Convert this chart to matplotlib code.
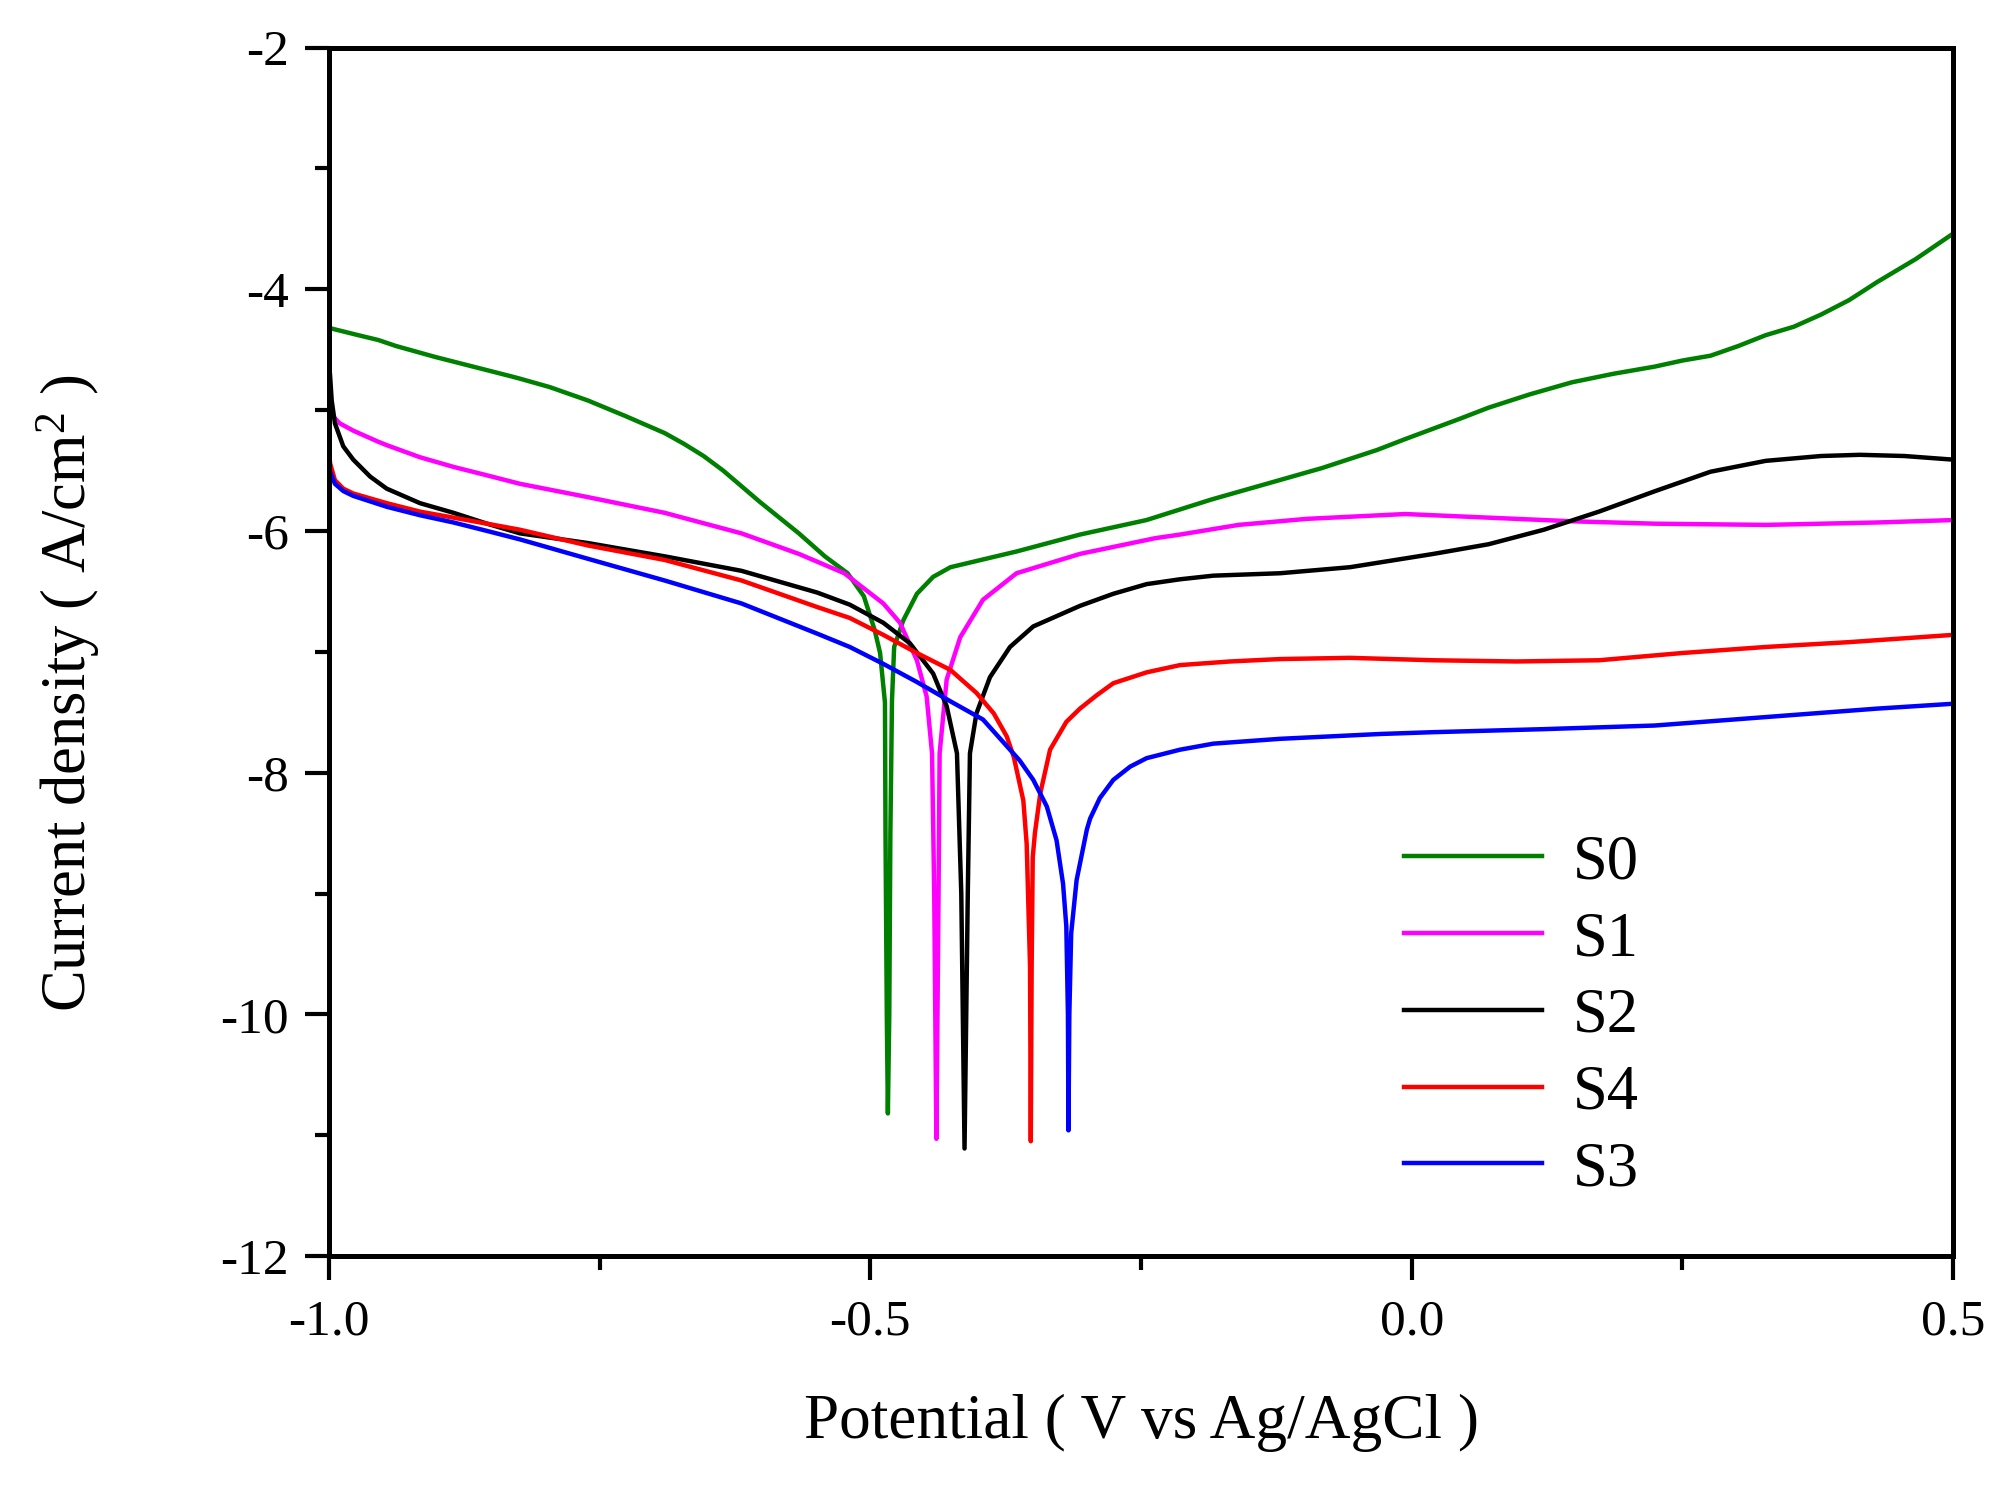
import matplotlib
matplotlib.use("Agg")
import matplotlib.pyplot as plt
from matplotlib.ticker import MultipleLocator, FixedLocator

plt.rcParams['font.family'] = ['Liberation Serif', 'DejaVu Serif']
plt.rcParams['mathtext.fontset'] = 'custom'
plt.rcParams['mathtext.rm'] = 'Liberation Serif'
plt.rcParams['mathtext.it'] = 'Liberation Serif:italic'
plt.rcParams['axes.unicode_minus'] = False

# ---- data (Potential V vs Ag/AgCl, log current density) ----
v_s0 = [-1.0, -0.973, -0.9545, -0.938, -0.902, -0.867, -0.832, -0.8236, -0.796, -0.761,
        -0.726, -0.690, -0.672, -0.654, -0.636, -0.619, -0.602, -0.584, -0.566, -0.542,
        -0.521, -0.506, -0.496, -0.491, -0.4865, -0.486, -0.4848, -0.4838, -0.4825, -0.4815,
        -0.480, -0.478, -0.4696, -0.457, -0.442, -0.426, -0.365, -0.3064, -0.245, -0.185,
        -0.134, -0.083, -0.032, -0.006, 0.045, 0.071, 0.109, 0.148, 0.186, 0.2246,
        0.250, 0.276, 0.3016, 0.327, 0.353, 0.378, 0.404, 0.430, 0.4656, 0.5]
i_s0 = [-4.32, -4.38, -4.42, -4.47, -4.56, -4.64, -4.72, -4.74, -4.81, -4.92,
        -5.05, -5.19, -5.28, -5.38, -5.50, -5.63, -5.76, -5.89, -6.02, -6.21,
        -6.35, -6.54, -6.82, -7.01, -7.42, -8.5, -10.0, -10.82, -10.0, -8.5,
        -7.4, -6.96, -6.74, -6.52, -6.38, -6.30, -6.17, -6.03, -5.91, -5.74,
        -5.61, -5.48, -5.33, -5.24, -5.07, -4.98, -4.87, -4.77, -4.70, -4.64,
        -4.59, -4.55, -4.47, -4.38, -4.31, -4.21, -4.09, -3.94, -3.75, -3.54]

v_s1 = [-1.0, -0.9975, -0.990, -0.9776, -0.955, -0.9467, -0.916, -0.885, -0.854, -0.8236,
        -0.761, -0.690, -0.619, -0.566, -0.524, -0.488, -0.4726, -0.457, -0.448, -0.443,
        -0.441, -0.439, -0.437, -0.436, -0.4295, -0.417, -0.396, -0.365, -0.3064, -0.237,
        -0.214, -0.160, -0.097, -0.006, 0.071, 0.148, 0.2246, 0.327, 0.430, 0.5]
i_s1 = [-4.93, -5.04, -5.11, -5.17, -5.26, -5.29, -5.39, -5.47, -5.54, -5.61,
        -5.72, -5.85, -6.02, -6.19, -6.35, -6.60, -6.76, -7.07, -7.37, -7.84,
        -9.0, -11.03, -9.0, -7.84, -7.23, -6.88, -6.57, -6.35, -6.19, -6.06,
        -6.03, -5.95, -5.90, -5.86, -5.89, -5.92, -5.94, -5.95, -5.93, -5.91]

v_s2 = [-1.0, -0.9991, -0.9975, -0.9945, -0.9868, -0.9776, -0.962, -0.9467, -0.916, -0.885,
        -0.854, -0.8236, -0.761, -0.690, -0.619, -0.549, -0.519, -0.488, -0.4634, -0.442,
        -0.4295, -0.420, -0.416, -0.413, -0.410, -0.408, -0.402, -0.3895, -0.371, -0.3495,
        -0.3064, -0.2756, -0.2448, -0.214, -0.1832, -0.1216, -0.057, -0.029, 0.020, 0.071,
        0.122, 0.173, 0.225, 0.276, 0.327, 0.378, 0.414, 0.455, 0.5]
i_s2 = [-4.62, -4.70, -4.92, -5.11, -5.30, -5.41, -5.55, -5.65, -5.77, -5.85,
        -5.94, -6.02, -6.10, -6.21, -6.33, -6.51, -6.61, -6.76, -6.93, -7.18,
        -7.45, -7.84, -9.0, -11.11, -9.0, -7.84, -7.51, -7.21, -6.96, -6.79,
        -6.62, -6.52, -6.44, -6.40, -6.37, -6.35, -6.30, -6.26, -6.19, -6.11,
        -5.99, -5.84, -5.67, -5.51, -5.42, -5.38, -5.37, -5.38, -5.41]

v_s4 = [-1.0, -0.999, -0.9945, -0.9868, -0.9776, -0.9467, -0.916, -0.885, -0.854, -0.8236,
        -0.761, -0.690, -0.619, -0.549, -0.519, -0.488, -0.457, -0.426, -0.402, -0.386,
        -0.374, -0.3675, -0.3587, -0.3556, -0.3525, -0.3518, -0.3510, -0.3500, -0.348, -0.343,
        -0.334, -0.319, -0.3064, -0.291, -0.2756, -0.2448, -0.214, -0.1678, -0.1216, -0.057,
        0.020, 0.0966, 0.173, 0.250, 0.327, 0.404, 0.5]
i_s4 = [-5.30, -5.44, -5.58, -5.65, -5.69, -5.77, -5.84, -5.89, -5.94, -5.99,
        -6.12, -6.24, -6.41, -6.63, -6.72, -6.86, -7.01, -7.15, -7.34, -7.51,
        -7.70, -7.87, -8.23, -8.59, -9.6, -11.05, -9.6, -8.7, -8.50, -8.17,
        -7.81, -7.58, -7.47, -7.36, -7.26, -7.17, -7.11, -7.08, -7.06, -7.05,
        -7.07, -7.08, -7.07, -7.01, -6.96, -6.92, -6.86]

v_s3 = [-1.0, -0.999, -0.9945, -0.9868, -0.9776, -0.9467, -0.916, -0.885, -0.854, -0.8236,
        -0.761, -0.690, -0.619, -0.549, -0.519, -0.488, -0.457, -0.426, -0.396, -0.380,
        -0.362, -0.3495, -0.337, -0.328, -0.322, -0.319, -0.3175, -0.317, -0.3162, -0.3145,
        -0.3095, -0.300, -0.297, -0.288, -0.2756, -0.260, -0.2448, -0.214, -0.1832, -0.1216,
        -0.029, 0.020, 0.122, 0.2246, 0.327, 0.430, 0.5]
i_s3 = [-5.40, -5.51, -5.61, -5.67, -5.71, -5.80, -5.87, -5.93, -6.00, -6.07,
        -6.23, -6.41, -6.60, -6.85, -6.96, -7.10, -7.25, -7.41, -7.56, -7.72,
        -7.90, -8.06, -8.28, -8.56, -8.92, -9.27, -10.0, -10.96, -10.0, -9.33,
        -8.89, -8.47, -8.38, -8.21, -8.06, -7.95, -7.88, -7.81, -7.76, -7.72,
        -7.68, -7.665, -7.64, -7.61, -7.54, -7.47, -7.43]

series_labels = ['S0', 'S1', 'S2', 'S4', 'S3']
series_colors = ['#008000', '#FF00FF', '#000000', '#FF0000', '#0000FF']
series_v = [v_s0, v_s1, v_s2, v_s4, v_s3]
series_i = [i_s0, i_s1, i_s2, i_s4, i_s3]

x_ticks = [-1.0, -0.5, 0.0, 0.5]
x_tick_labels = ['-1.0', '-0.5', '0.0', '0.5']
y_ticks = [-12, -10, -8, -6, -4, -2]
y_tick_labels = ['-12', '-10', '-8', '-6', '-4', '-2']

# ---- figure ----
fig = plt.figure(figsize=(20.06, 14.90), dpi=100)
ax = fig.add_axes([0.1640, 0.1570, 0.8096, 0.8111])

for v, i, lab, col in zip(series_v, series_i, series_labels, series_colors):
    ax.plot(v, i, color=col, lw=3.2, label=lab, solid_joinstyle='round')

ax.set_xlim(-1.0, 0.5)
ax.set_ylim(-12, -2)

ax.xaxis.set_major_locator(FixedLocator(x_ticks))
ax.set_xticklabels(x_tick_labels)
ax.xaxis.set_minor_locator(MultipleLocator(0.25))
ax.yaxis.set_major_locator(FixedLocator(y_ticks))
ax.set_yticklabels(y_tick_labels)
ax.yaxis.set_minor_locator(MultipleLocator(1))

for s in ax.spines.values():
    s.set_linewidth(3.6)

ax.tick_params(axis='both', which='major', direction='out', length=17, width=3.0,
               labelsize=37, top=False, right=False)
ax.tick_params(axis='both', which='minor', direction='out', length=10, width=3.0,
               top=False, right=False)
ax.tick_params(axis='x', which='major', pad=14)
ax.tick_params(axis='y', which='major', pad=12)

fig.text(0.5688, 0.0349, 'Potential ( V vs Ag/AgCl )', fontsize=45.5,
         ha='center', va='baseline')
fig.text(0.0429, 0.5346, 'Current density ( A/cm$^{2}$ )', fontsize=45,
         rotation=90, rotation_mode='anchor', ha='center', va='baseline')

leg = ax.legend(loc='upper left', bbox_to_anchor=(0.662, 0.349), frameon=False,
                fontsize=45, handlelength=2.2, handletextpad=0.5, labelspacing=0.3,
                borderpad=0.0, borderaxespad=0.0)
for h in leg.get_lines():
    h.set_linewidth(3.2)

fig.savefig('out.png', dpi=100)
